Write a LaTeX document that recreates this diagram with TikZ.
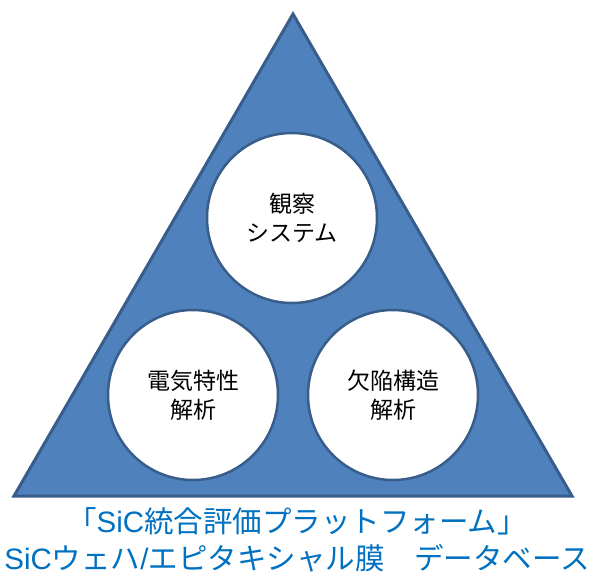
\documentclass[tikz,border=0pt]{standalone}
\usepackage{fontspec}
\newfontfamily\jpfont{Noto Sans CJK JP}
\newfontfamily\latinfont{Liberation Sans}
\newcommand{\lat}[1]{{\latinfont #1}}
\definecolor{triblue}{HTML}{4F81BD}
\definecolor{edgeblue}{HTML}{385D8A}
\definecolor{textblue}{HTML}{0070C0}
\usetikzlibrary{positioning}

\begin{document}
\begin{tikzpicture}[x=1pt,y=-1pt,
  topic/.style={circle,draw=edgeblue,fill=white,line width=2.5pt,minimum size=170pt,
    inner sep=0pt,align=center,font=\jpfont\fontsize{23}{29}\selectfont},
  caption/.style={align=center,text=textblue,font=\jpfont\fontsize{29.5}{37}\selectfont}]
\useasboundingbox (0,0) rectangle (596,576);
\coordinate (apex) at (293,14);
\coordinate (bl) at (14,496);
\coordinate (br) at (572,496);
\filldraw[fill=triblue,draw=edgeblue,line width=3pt] (apex) -- (br) -- (bl) -- cycle;
\node[topic] (obs)  at (292,218) {観察\\システム};
\node[topic] (elec) at (193,395) {電気特性\\解析};
\node[topic] (defect) at (393,395) {欠陥構造\\解析};
\node[caption] (title) at (297,540) {「\lat{SiC}統合評価プラットフォーム」\\\lat{SiC}ウェハ\lat{/}エピタキシャル膜　データベース};
\end{tikzpicture}
\end{document}
